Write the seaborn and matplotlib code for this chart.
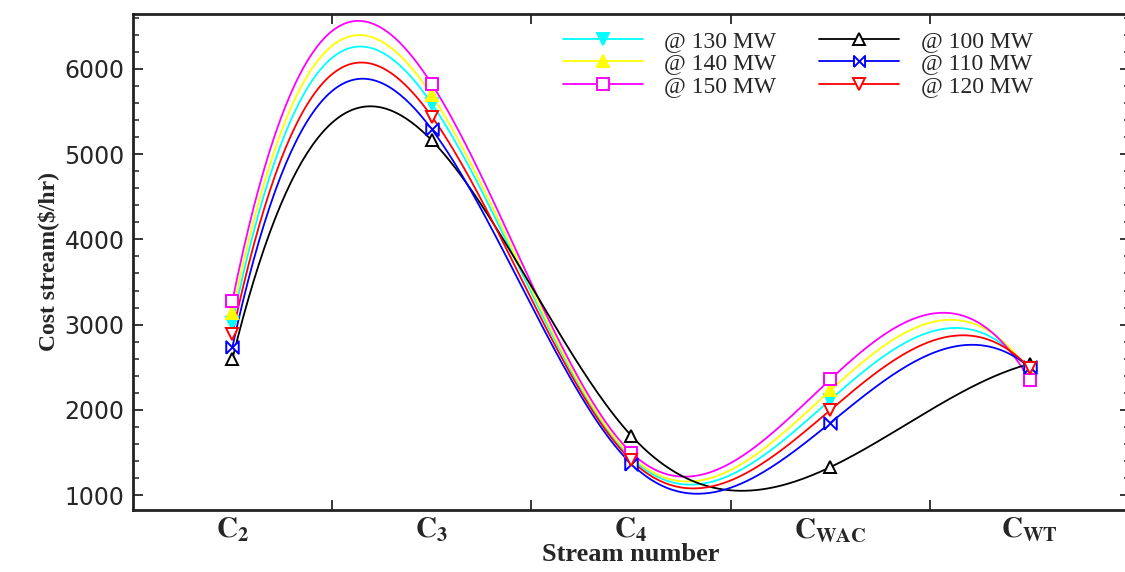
"""
Cost stream per stream number at different plant loads.
Smooth curves through the five stream values for each load.
"""

import numpy as np
import pandas as pd
import matplotlib
matplotlib.use("Agg")
import matplotlib.pyplot as plt
from matplotlib.lines import Line2D
from matplotlib.ticker import MultipleLocator, FixedLocator
import seaborn as sns

# 1. DATA
streams = [r"$\mathbf{C_2}$", r"$\mathbf{C_3}$", r"$\mathbf{C_4}$",
           r"$\mathbf{C_{WAC}}$", r"$\mathbf{C_{WT}}$"]
stream_pos = [1, 2, 3, 4, 5]

load_100 = [2600, 5160, 1700, 1330, 2540]
load_110 = [2740, 5290, 1370, 1850, 2500]
load_120 = [2890, 5440, 1410, 2000, 2490]
load_130 = [3020, 5590, 1440, 2120, 2450]
load_140 = [3140, 5690, 1460, 2230, 2440]
load_150 = [3280, 5820, 1500, 2360, 2350]

labels = ["@ 130 MW", "@ 140 MW", "@ 150 MW", "@ 100 MW", "@ 110 MW", "@ 120 MW"]
series = [load_130, load_140, load_150, load_100, load_110, load_120]
colors = ["#00ffff", "#ffff00", "#ff00ff", "#000000", "#0000ff", "#ff0000"]

bowtie = [(-1, -1), (-1, 1), (1, -1), (1, 1), (-1, -1)]
markers = ["v", "^", "s", "^", bowtie, "v"]
filled = [True, True, False, False, False, False]


def spline_not_a_knot(x, y, x_new):
    # piecewise cubic through the points, C2, not-a-knot ends
    x = np.asarray(x, float)
    y = np.asarray(y, float)
    n = len(x) - 1
    A = np.zeros((4 * n, 4 * n))
    b = np.zeros(4 * n)
    r = 0
    for i in range(n):
        for xx, yy in ((x[i], y[i]), (x[i + 1], y[i + 1])):
            A[r, 4 * i:4 * i + 4] = [xx ** 3, xx ** 2, xx, 1]
            b[r] = yy
            r += 1
    for i in range(n - 1):
        xx = x[i + 1]
        A[r, 4 * i:4 * i + 3] = [3 * xx ** 2, 2 * xx, 1]
        A[r, 4 * i + 4:4 * i + 7] = [-3 * xx ** 2, -2 * xx, -1]
        r += 1
        A[r, 4 * i:4 * i + 2] = [6 * xx, 2]
        A[r, 4 * i + 4:4 * i + 6] = [-6 * xx, -2]
        r += 1
    A[r, 0] = 1
    A[r, 4] = -1
    r += 1
    A[r, 4 * (n - 2)] = 1
    A[r, 4 * (n - 1)] = -1
    c = np.linalg.solve(A, b).reshape(n, 4)
    idx = np.clip(np.searchsorted(x, x_new) - 1, 0, n - 1)
    return np.array([np.polyval(c[k], t) for k, t in zip(idx, x_new)])


# 2. STYLE
sns.set_style("ticks")
plt.rcParams["font.family"] = ["DejaVu Sans"]
plt.rcParams["mathtext.fontset"] = "stix"

fig = plt.figure(figsize=(11.25, 5.72), dpi=100)
ax = fig.add_axes([0.118, 0.108, 0.886, 0.868])

# 3. CURVES
x_fine = np.linspace(1, 5, 300)
for vals, col, mk, fl in zip(series, colors, markers, filled):
    curve = pd.DataFrame({"x": x_fine, "y": spline_not_a_knot(stream_pos, vals, x_fine)})
    sns.lineplot(data=curve, x="x", y="y", color=col, lw=1.3, ax=ax)
    ax.plot(stream_pos, vals, linestyle="none", marker=mk, color=col,
            markersize=9, markeredgewidth=1.4,
            markerfacecolor=col if fl else "white", zorder=5)

# 4. AXES
ax.set_xlim(0.5, 5.5)
ax.set_ylim(824, 6645)
ax.xaxis.set_major_locator(FixedLocator([1.5, 2.5, 3.5, 4.5]))
ax.xaxis.set_minor_locator(FixedLocator(stream_pos))
ax.set_xticklabels([])
ax.set_xticklabels(streams, minor=True, fontsize=21)
ax.tick_params(axis="x", which="minor", length=0, pad=4)
ax.tick_params(axis="x", which="major", direction="in", length=7, width=1.3,
               top=True)
ax.yaxis.set_major_locator(MultipleLocator(1000))
ax.yaxis.set_minor_locator(MultipleLocator(200))
ax.tick_params(axis="y", which="major", direction="in", length=7, width=1.3,
               right=True, labelsize=17, pad=6)
ax.tick_params(axis="y", which="minor", direction="in", length=4, width=1.1,
               right=True)
for sp in ax.spines.values():
    sp.set_linewidth(2)
    sp.set_color("#222222")

ax.set_xlabel("Stream number", family="Liberation Serif", fontweight="bold",
              fontsize=19, labelpad=-1)
ax.set_ylabel("Cost stream($/hr)", family="Liberation Serif", fontweight="bold",
              fontsize=17, labelpad=4)

# 5. LEGEND
handles = [Line2D([0], [0], color=c, lw=1.3, marker=m, markersize=8,
                  markeredgewidth=1.4, markerfacecolor=c if f else "white")
           for c, m, f in zip(colors, markers, filled)]
ax.legend(handles, labels, ncol=2, frameon=False, loc="upper left",
          bbox_to_anchor=(0.415, 1.0), prop={"family": "Liberation Serif", "size": 17},
          handlelength=3.4, columnspacing=1.8, labelspacing=0.05,
          handletextpad=0.9, borderaxespad=0.3)

fig.savefig("out.png", dpi=100)
